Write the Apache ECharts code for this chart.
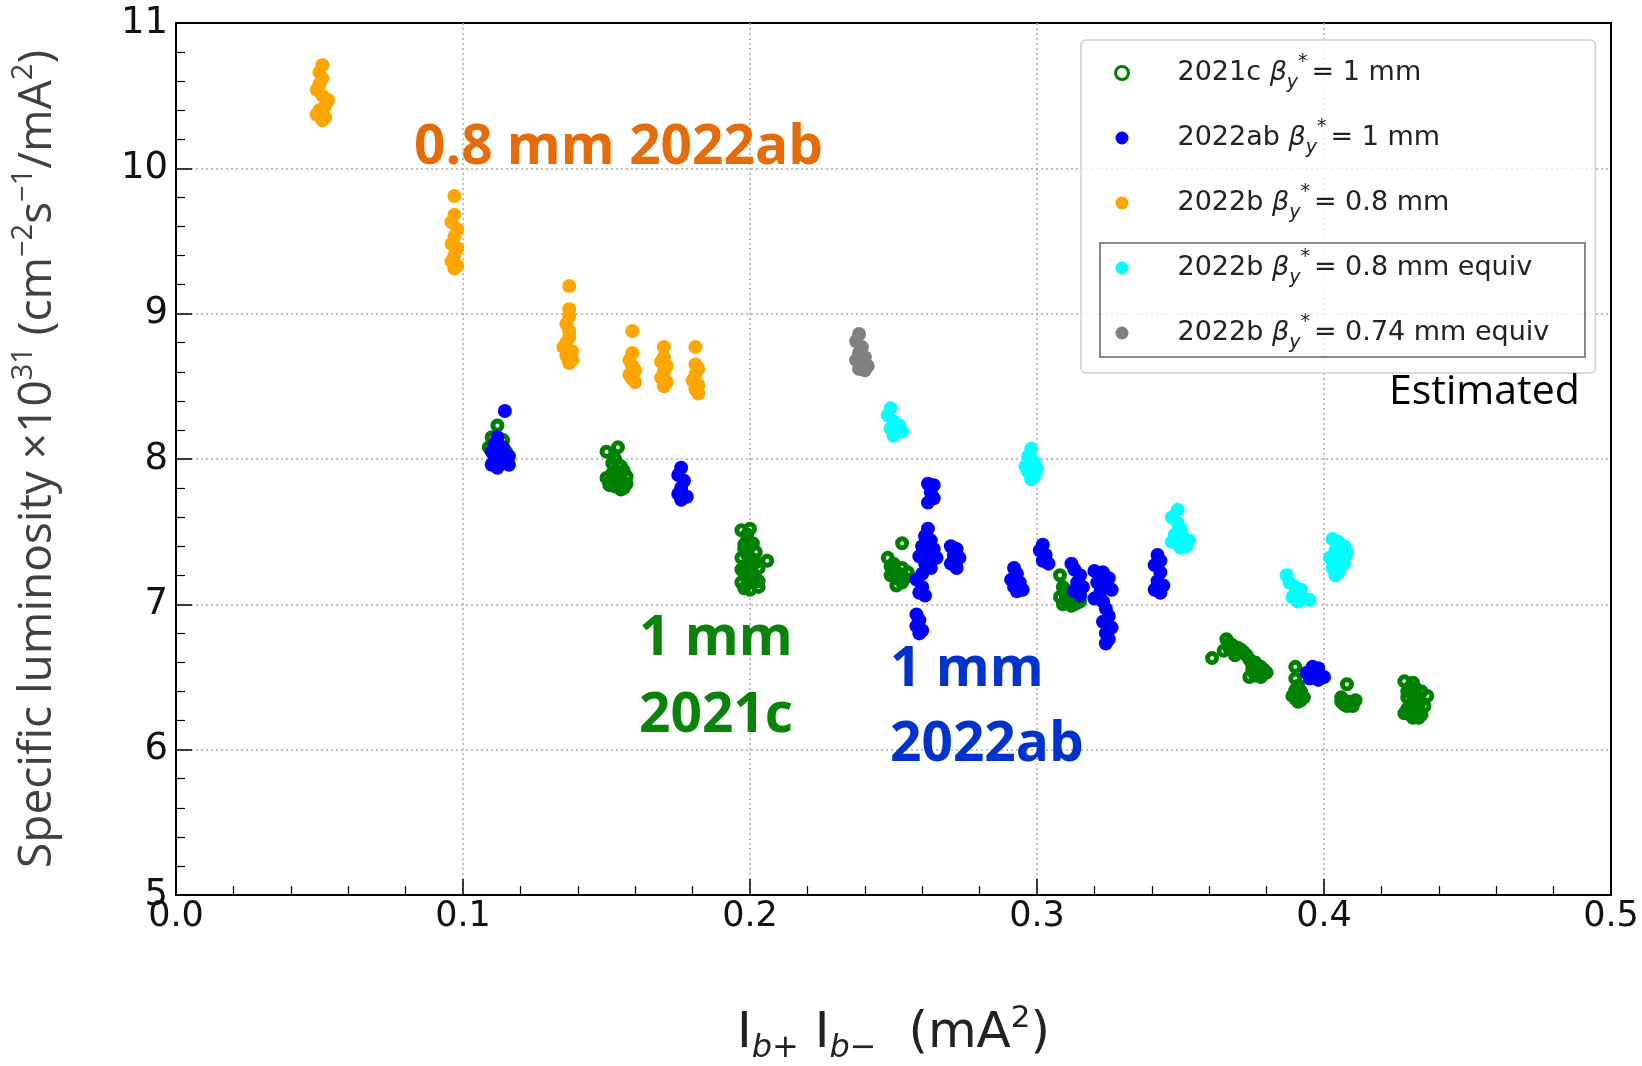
<!DOCTYPE html>
<html>
<head>
<meta charset="utf-8">
<script src="https://cdn.jsdelivr.net/npm/echarts@6/dist/echarts.min.js"></script>
<style>
  html, body { margin: 0; padding: 0; background: #fff; }
  #main { width: 1642px; height: 1066px; }
</style>
</head>
<body>
<div id="main"></div>
<script>
// x = Ib+ * Ib- (mA^2), y = specific luminosity x1e31
const run2021c = [
  [0.112, 8.23], [0.110, 8.15], [0.114, 8.13], [0.109, 8.08], [0.115, 8.05], [0.111, 8.00],
  [0.150, 8.05], [0.154, 8.08], [0.153, 8.00], [0.155, 7.95], [0.152, 7.90], [0.150, 7.87],
  [0.154, 7.85], [0.157, 7.83], [0.151, 7.82], [0.156, 7.80],
  [0.152, 7.97], [0.156, 7.92], [0.153, 7.88], [0.155, 7.86], [0.151, 7.84], [0.157, 7.88],
  [0.153, 7.81], [0.155, 7.79],
  [0.197, 7.51], [0.200, 7.52], [0.199, 7.45], [0.201, 7.42], [0.198, 7.38], [0.202, 7.36],
  [0.206, 7.30], [0.197, 7.32], [0.200, 7.28], [0.203, 7.25], [0.198, 7.22], [0.201, 7.18],
  [0.199, 7.14], [0.203, 7.12], [0.197, 7.15],
  [0.199, 7.48], [0.198, 7.41], [0.200, 7.40], [0.199, 7.34], [0.201, 7.31], [0.202, 7.29],
  [0.198, 7.26], [0.200, 7.23], [0.201, 7.21], [0.199, 7.19], [0.202, 7.16], [0.198, 7.11],
  [0.200, 7.10], [0.203, 7.16], [0.197, 7.24],
  [0.253, 7.42], [0.248, 7.32], [0.250, 7.28], [0.253, 7.25], [0.249, 7.20], [0.252, 7.17],
  [0.255, 7.22], [0.251, 7.13],
  [0.250, 7.23], [0.252, 7.21], [0.254, 7.18], [0.249, 7.26], [0.251, 7.19], [0.253, 7.15],
  [0.308, 7.20], [0.309, 7.12], [0.311, 7.08], [0.310, 7.03], [0.313, 7.00], [0.315, 7.02],
  [0.308, 7.05], [0.312, 6.99],
  [0.310, 7.06], [0.312, 7.04], [0.314, 7.01], [0.309, 7.00], [0.311, 7.01], [0.313, 7.04],
  [0.310, 7.10],
  [0.361, 6.63], [0.366, 6.76], [0.368, 6.72], [0.365, 6.68], [0.370, 6.70], [0.372, 6.67],
  [0.369, 6.65], [0.374, 6.62], [0.376, 6.60], [0.375, 6.55], [0.378, 6.57], [0.377, 6.52],
  [0.380, 6.53], [0.374, 6.50],
  [0.367, 6.73], [0.371, 6.69], [0.373, 6.65], [0.375, 6.58], [0.377, 6.55], [0.379, 6.55],
  [0.376, 6.51], [0.378, 6.50], [0.368, 6.68], [0.367, 6.70],
  [0.390, 6.57], [0.390, 6.49], [0.391, 6.44], [0.392, 6.40], [0.389, 6.37], [0.393, 6.36],
  [0.391, 6.33],
  [0.390, 6.41], [0.392, 6.38], [0.390, 6.35], [0.392, 6.34], [0.391, 6.38],
  [0.408, 6.45], [0.406, 6.36], [0.409, 6.33], [0.411, 6.34], [0.407, 6.31], [0.410, 6.30],
  [0.407, 6.34], [0.409, 6.31], [0.408, 6.30], [0.410, 6.32], [0.406, 6.33],
  [0.428, 6.47], [0.431, 6.46], [0.434, 6.40], [0.436, 6.37], [0.429, 6.40], [0.432, 6.35],
  [0.430, 6.30], [0.433, 6.28], [0.428, 6.25], [0.431, 6.22], [0.434, 6.24],
  [0.430, 6.43], [0.432, 6.42], [0.429, 6.36], [0.431, 6.33], [0.433, 6.31], [0.429, 6.28],
  [0.432, 6.26], [0.430, 6.24], [0.433, 6.22], [0.435, 6.30]
];

const run2022ab = [
  [0.1146, 8.33], [0.112, 8.15], [0.111, 8.10], [0.114, 8.08], [0.110, 8.05], [0.113, 8.03],
  [0.116, 8.02], [0.111, 7.99], [0.114, 7.97], [0.110, 7.96], [0.116, 7.96], [0.112, 7.94],
  [0.176, 7.94], [0.175, 7.89], [0.177, 7.85], [0.176, 7.80], [0.175, 7.76], [0.178, 7.74],
  [0.176, 7.72],
  [0.262, 7.83], [0.264, 7.82], [0.263, 7.77], [0.264, 7.73], [0.262, 7.70],
  [0.262, 7.52], [0.261, 7.47], [0.263, 7.44], [0.260, 7.40], [0.264, 7.38], [0.262, 7.35],
  [0.259, 7.33], [0.265, 7.32], [0.261, 7.28], [0.263, 7.25], [0.260, 7.21], [0.258, 7.17],
  [0.260, 7.12], [0.259, 7.08], [0.261, 7.06],
  [0.270, 7.40], [0.272, 7.38], [0.271, 7.34], [0.273, 7.32], [0.270, 7.28], [0.272, 7.25],
  [0.258, 6.93], [0.259, 6.89], [0.258, 6.85], [0.260, 6.82], [0.259, 6.80],
  [0.292, 7.25], [0.293, 7.21], [0.291, 7.17], [0.294, 7.15], [0.292, 7.12], [0.295, 7.10],
  [0.293, 7.09],
  [0.302, 7.41], [0.301, 7.37], [0.303, 7.34], [0.302, 7.30], [0.304, 7.28],
  [0.312, 7.28], [0.313, 7.24], [0.315, 7.20], [0.314, 7.15], [0.316, 7.12], [0.313, 7.09],
  [0.315, 7.06],
  [0.320, 7.23], [0.323, 7.22], [0.325, 7.18], [0.321, 7.15], [0.324, 7.12], [0.322, 7.08],
  [0.326, 7.10], [0.320, 7.04], [0.323, 7.02],
  [0.324, 6.97], [0.325, 6.92], [0.323, 6.88], [0.326, 6.84], [0.324, 6.80], [0.325, 6.76],
  [0.324, 6.73],
  [0.342, 7.34], [0.343, 7.30], [0.341, 7.27], [0.343, 7.22], [0.342, 7.16], [0.344, 7.13],
  [0.341, 7.10], [0.343, 7.08],
  [0.396, 6.57], [0.398, 6.56], [0.394, 6.53], [0.397, 6.52], [0.400, 6.50], [0.395, 6.49],
  [0.398, 6.48]
];

const run2022b08 = [
  [0.051, 10.71], [0.050, 10.66], [0.051, 10.62], [0.050, 10.58], [0.049, 10.54], [0.051, 10.50],
  [0.053, 10.47], [0.052, 10.43], [0.050, 10.40], [0.049, 10.37], [0.052, 10.35], [0.051, 10.33],
  [0.097, 9.81], [0.097, 9.68], [0.096, 9.63], [0.098, 9.58], [0.097, 9.53], [0.096, 9.48],
  [0.098, 9.45], [0.097, 9.40], [0.096, 9.36], [0.098, 9.33], [0.097, 9.31],
  [0.137, 9.19], [0.137, 9.03], [0.137, 8.98], [0.136, 8.93], [0.137, 8.88], [0.137, 8.84],
  [0.136, 8.80], [0.135, 8.77], [0.138, 8.74], [0.136, 8.71], [0.138, 8.68], [0.137, 8.66],
  [0.159, 8.88], [0.159, 8.73], [0.158, 8.68], [0.159, 8.64], [0.160, 8.61], [0.158, 8.58],
  [0.159, 8.55], [0.160, 8.53],
  [0.170, 8.77], [0.170, 8.70], [0.169, 8.67], [0.171, 8.64], [0.170, 8.60], [0.169, 8.56],
  [0.171, 8.53], [0.170, 8.50],
  [0.181, 8.77], [0.181, 8.65], [0.182, 8.62], [0.181, 8.58], [0.180, 8.54], [0.182, 8.51],
  [0.181, 8.48], [0.182, 8.45]
];

const run2022b08equiv = [
  [0.249, 8.35], [0.248, 8.30], [0.250, 8.26], [0.252, 8.23], [0.249, 8.21], [0.251, 8.18],
  [0.253, 8.19], [0.250, 8.16],
  [0.298, 8.07], [0.297, 8.02], [0.299, 7.98], [0.296, 7.95], [0.300, 7.93], [0.297, 7.91],
  [0.299, 7.88], [0.298, 7.86],
  [0.349, 7.65], [0.347, 7.60], [0.349, 7.56], [0.350, 7.52], [0.348, 7.48], [0.351, 7.46],
  [0.353, 7.44], [0.349, 7.42], [0.352, 7.40], [0.350, 7.39], [0.347, 7.43],
  [0.387, 7.20], [0.388, 7.15], [0.390, 7.12], [0.391, 7.08], [0.392, 7.10], [0.389, 7.05],
  [0.393, 7.04], [0.395, 7.03], [0.391, 7.02],
  [0.403, 7.45], [0.405, 7.43], [0.407, 7.40], [0.404, 7.37], [0.408, 7.35], [0.402, 7.32],
  [0.405, 7.30], [0.407, 7.28], [0.403, 7.25], [0.405, 7.22], [0.404, 7.20]
];

const run2022b074equiv = [
  [0.238, 8.86], [0.237, 8.81], [0.239, 8.77], [0.238, 8.73], [0.240, 8.70], [0.237, 8.68],
  [0.239, 8.65], [0.241, 8.64], [0.238, 8.62], [0.240, 8.61]
];

const seriesNames = ['2021c 1 mm', '2022ab 1 mm', '2022b 0.8 mm', '2022b 0.8 mm equiv', '2022b 0.74 mm equiv'];
const legendPrefix = ['2021c', '2022ab', '2022b', '2022b', '2022b'];
const legendSuffix = ['1 mm', '1 mm', '0.8 mm', '0.8 mm equiv', '0.74 mm equiv'];

var chartDom = document.getElementById('main');
var myChart = echarts.init(chartDom);
var option;

const serif = 'DejaVu Sans, sans-serif';
const calibri = 'Open Sans, sans-serif';

function filled(name, data, color) {
  return {
    name: name,
    type: 'scatter',
    data: data,
    symbol: 'circle',
    symbolSize: 14,
    itemStyle: { color: color, opacity: 1 },
    emphasis: { disabled: true }
  };
}

option = {
  animation: false,
  backgroundColor: '#fff',
  grid: {
    left: 176, right: 31, top: 23, bottom: 171,
    show: true, borderColor: '#000', borderWidth: 2,
    containLabel: false, outerBoundsMode: 'none'
  },
  legend: {
    orient: 'vertical',
    left: 1081, top: 40,
    padding: [13, 46, 20, 33],
    itemGap: 25,
    itemWidth: 13, itemHeight: 13,
    icon: 'circle',
    backgroundColor: 'rgba(255,255,255,0.8)',
    borderColor: '#d0d0d0', borderWidth: 1.5, borderRadius: 5,
    selectedMode: false,
    data: [
      { name: seriesNames[0], itemStyle: { color: 'rgba(0,0,0,0)', borderColor: 'green', borderWidth: 3 } },
      seriesNames[1], seriesNames[2], seriesNames[3], seriesNames[4]
    ],
    formatter: function (name) {
      const i = seriesNames.indexOf(name);
      return '{gap|}{t|' + legendPrefix[i] + ' }{b|β}{y|y}{st|*}{t|= ' + legendSuffix[i] + '}';
    },
    textStyle: {
      fontFamily: serif, fontSize: 27, color: '#222',
      rich: {
        gap: { width: 44 },
        t: { fontFamily: serif, fontSize: 27, color: '#222', lineHeight: 40 },
        b: { fontFamily: serif, fontSize: 27, color: '#222', fontStyle: 'italic', lineHeight: 40 },
        y: { fontFamily: serif, fontSize: 19, color: '#222', fontStyle: 'italic', lineHeight: 40, verticalAlign: 'bottom' },
        st: { fontFamily: serif, fontSize: 19, color: '#222', lineHeight: 40, verticalAlign: 'top', padding: [0, 4, 0, 0] }
      }
    }
  },
  xAxis: {
    type: 'value', min: 0, max: 0.5, interval: 0.1,
    name: '{t|I}{s|b+}{t| I}{s|b−}{t|  (mA}{p|2}{t|)}',
    nameLocation: 'middle', nameGap: 108,
    nameTextStyle: {
      fontFamily: serif, fontSize: 50, color: '#222',
      rich: {
        t: { fontFamily: serif, fontSize: 50, color: '#222', lineHeight: 62 },
        s: { fontFamily: serif, fontSize: 32, color: '#222', fontStyle: 'italic', lineHeight: 62, verticalAlign: 'bottom' },
        p: { fontFamily: serif, fontSize: 31, color: '#222', lineHeight: 62, verticalAlign: 'top' }
      }
    },
    axisLine: { show: true, onZero: false, lineStyle: { color: '#000', width: 2 } },
    axisTick: { show: true, inside: true, length: 16, lineStyle: { color: '#000', width: 1.5 } },
    minorTick: { show: true, splitNumber: 5, length: 9, lineStyle: { color: '#000', width: 1.2 } },
    axisLabel: {
      fontFamily: serif, fontSize: 35, color: '#111', margin: 4,
      formatter: function (v) { return v.toFixed(1); }
    },
    splitLine: { show: true, showMinLine: false, showMaxLine: false, lineStyle: { color: '#aaa', width: 1.5, type: [2, 3] } }
  },
  yAxis: {
    type: 'value', min: 5, max: 11, interval: 1,
    name: '{t|Specific luminosity ×10}{s|31}{t| (cm}{s|−2}{t|s}{s|−1}{t|/mA}{s|2}{t|)}',
    nameLocation: 'middle', nameGap: 109, nameRotate: 90,
    nameTextStyle: {
      fontFamily: calibri, fontSize: 46, color: '#404040',
      rich: {
        t: { fontFamily: calibri, fontSize: 46, color: '#404040', lineHeight: 58 },
        s: { fontFamily: calibri, fontSize: 29, color: '#404040', lineHeight: 58, verticalAlign: 'top' }
      }
    },
    axisLine: { show: true, onZero: false, lineStyle: { color: '#000', width: 2 } },
    axisTick: { show: true, inside: true, length: 16, lineStyle: { color: '#000', width: 1.5 } },
    minorTick: { show: true, splitNumber: 5, length: 9, lineStyle: { color: '#000', width: 1.2 } },
    axisLabel: { fontFamily: serif, fontSize: 37, color: '#111', margin: 8 },
    splitLine: { show: true, showMinLine: false, showMaxLine: false, lineStyle: { color: '#aaa', width: 1.5, type: [2, 3] } }
  },
  series: [
    {
      name: seriesNames[0],
      type: 'scatter',
      data: run2021c,
      symbol: 'circle',
      symbolSize: 9,
      itemStyle: { color: 'rgba(0,0,0,0)', borderColor: 'green', borderWidth: 5, opacity: 1 },
      emphasis: { disabled: true }
    },
    filled(seriesNames[1], run2022ab, 'blue'),
    filled(seriesNames[2], run2022b08, 'orange'),
    filled(seriesNames[3], run2022b08equiv, 'cyan'),
    filled(seriesNames[4], run2022b074equiv, 'gray')
  ],
  graphic: [
    {
      type: 'rect', z: 100,
      shape: { x: 1100, y: 243, width: 485, height: 114 },
      style: { fill: 'none', stroke: '#888', lineWidth: 2 }
    },
    {
      type: 'text', z: 100, x: 1389, y: 392,
      style: { text: 'Estimated', fontFamily: calibri, fontSize: 41, fill: '#000', textVerticalAlign: 'middle' }
    },
    {
      type: 'text', z: 100, x: 414, y: 148,
      style: { text: '0.8 mm 2022ab', fontFamily: calibri, fontWeight: 'bold', fontSize: 55, fill: '#E46C0A', textVerticalAlign: 'middle' }
    },
    {
      type: 'text', z: 100, x: 639, y: 639,
      style: { text: '1 mm', fontFamily: calibri, fontWeight: 'bold', fontSize: 55, fill: '#0A830A', textVerticalAlign: 'middle' }
    },
    {
      type: 'text', z: 100, x: 639, y: 716,
      style: { text: '2021c', fontFamily: calibri, fontWeight: 'bold', fontSize: 55, fill: '#0A830A', textVerticalAlign: 'middle' }
    },
    {
      type: 'text', z: 100, x: 890, y: 670,
      style: { text: '1 mm', fontFamily: calibri, fontWeight: 'bold', fontSize: 55, fill: '#0033CC', textVerticalAlign: 'middle' }
    },
    {
      type: 'text', z: 100, x: 890, y: 745,
      style: { text: '2022ab', fontFamily: calibri, fontWeight: 'bold', fontSize: 55, fill: '#0033CC', textVerticalAlign: 'middle' }
    }
  ]
};

option && myChart.setOption(option);
</script>
</body>
</html>
